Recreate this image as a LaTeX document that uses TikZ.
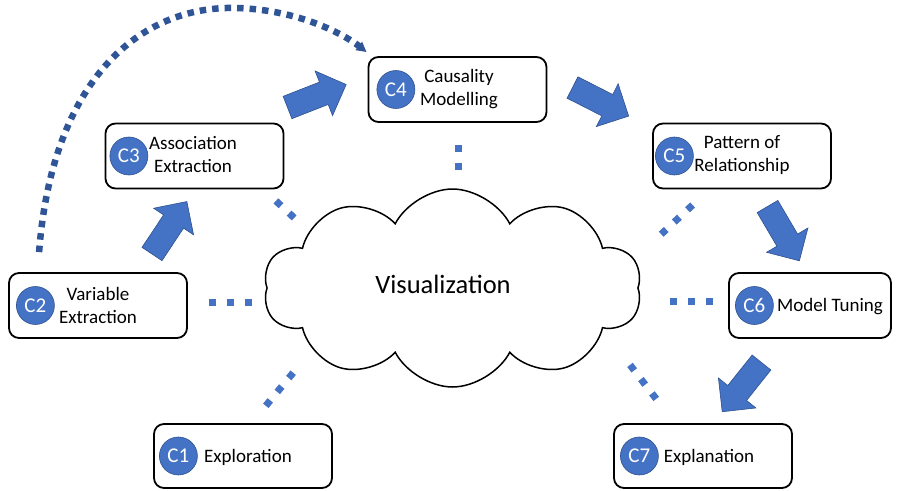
\documentclass[tikz,border=0pt]{standalone}
\usepackage{fontspec}
\setmainfont{Carlito}
\usetikzlibrary{positioning,shapes.symbols,arrows.meta}
\definecolor{badgeblue}{HTML}{4472C4}
\definecolor{edgeblue}{HTML}{2F528F}
\definecolor{curveblue}{HTML}{2F5597}
\tikzset{
  stage/.style={draw,line width=1.8pt,rounded corners=10pt,minimum width=178pt,minimum height=65pt,inner sep=0pt},
  badge/.style={circle,fill=badgeblue,draw=edgeblue,line width=0.6pt,minimum size=38pt,inner sep=0pt,text=white,font=\fontsize{21}{21}\selectfont},
  stagetext/.style={align=center,font=\fontsize{19}{23}\selectfont,inner sep=0pt},
  dotline/.style={badgeblue,line width=7pt,dash pattern=on 7pt off 11pt},
  curvedots/.style={curveblue,line width=6.5pt,dash pattern=on 6.5pt off 6pt},
  fatarrow/.pic={\filldraw[fill=badgeblue,draw=edgeblue,line width=0.6pt] (0,-12) -- (39,-12) -- (39,-24) -- (63,0) -- (39,24) -- (39,12) -- (0,12) -- cycle;}
}
\begin{document}
\begin{tikzpicture}[x=1pt,y=-1pt]
\useasboundingbox (0,0) rectangle (899,490);
% stage boxes
\node[stage] (c2) at (98,305.5) {};
\node[stage] (c3) at (194.5,156) {};
\node[stage] (c4) at (457.5,89.5) {};
\node[stage] (c5) at (742,156) {};
\node[stage,minimum width=162pt] (c6) at (810,305.5) {};
\node[stage,minimum height=64pt] (c1) at (243,456) {};
\node[stage,minimum height=64pt] (c7) at (703,456) {};
% labels
\node[stagetext] (t2) at (98,305) {Variable\\Extraction};
\node[stagetext] (t3) at (193,154) {Association\\Extraction};
\node[stagetext] (t4) at (459,89) {Causality\\Modelling};
\node[stagetext] (t5) at (742,155) {Pattern of\\Relationship};
\node[stagetext] (t6) at (830,307) {Model Tuning};
\node[stagetext] (t1) at (248,457) {Exploration};
\node[stagetext] (t7) at (709,457) {Explanation};
% badges
\node[badge,right=8pt of c2.west] (b2) {C2};
\node[badge,right=5pt of c3.west] (b3) {C3};
\node[badge,right=9pt of c4.west] (b4) {C4};
\node[badge,right=3pt of c5.west] (b5) {C5};
\node[badge,right=7pt of c6.west] (b6) {C6};
\node[badge,right=6pt of c1.west] (b1) {C1};
\node[badge,right=7pt of c7.west] (b7) {C7};
% cloud
\node[cloud,draw,line width=1.5pt,cloud puffs=10,cloud puff arc=125,cloud ignores aspect,
  minimum width=378pt,minimum height=198pt,inner sep=0pt] (vis) at (452.5,288) {};
\node[font=\fontsize{26.5}{30}\selectfont,inner sep=0pt] (vislabel) at (443,284) {Visualization};
% flow arrows
\pic[rotate=56.4] at (152,254) {fatarrow};
\pic[rotate=21.4] at (287.5,107.5) {fatarrow};
\pic[rotate=-27] at (572.5,87.5) {fatarrow};
\pic[rotate=-59.6] at (767.5,206.5) {fatarrow};
\pic[rotate=-128.6] at (761.5,362.5) {fatarrow};
% links to the cloud
\draw[dotline] ([shift={(21.5,-3.5)}]c2.east) -- ++(43,0);
\draw[dotline] ([shift={(-15.5,-4.5)}]c6.west) -- ++(-43,0);
\draw[dotline] ([shift={(0.5,22.5)}]c4.south) -- ++(0,25);
\draw[dotline] ([shift={(-8.5,11.5)}]c3.south east) -- ++(18.3,17);
\draw[dotline] ([shift={(22.8,-17.3)}]c1.north) -- ++(27.4,-33.1);
\draw[dotline] ([shift={(-49.4,15.6)}]c5.south) -- ++(-31.4,29.2);
\draw[dotline] ([shift={(43.1,-24.2)}]c7.north west) -- ++(-26.2,-34);
% long jump
\draw[curvedots,-{Triangle[length=10pt,width=10pt]}] ([shift={(31,-20)}]c2.north west)
  .. controls (52,80) and (140,5) .. (237,8)
  .. controls (300,10) and (345,35) .. ([shift={(-1,-4)}]c4.north west);
\end{tikzpicture}
\end{document}
